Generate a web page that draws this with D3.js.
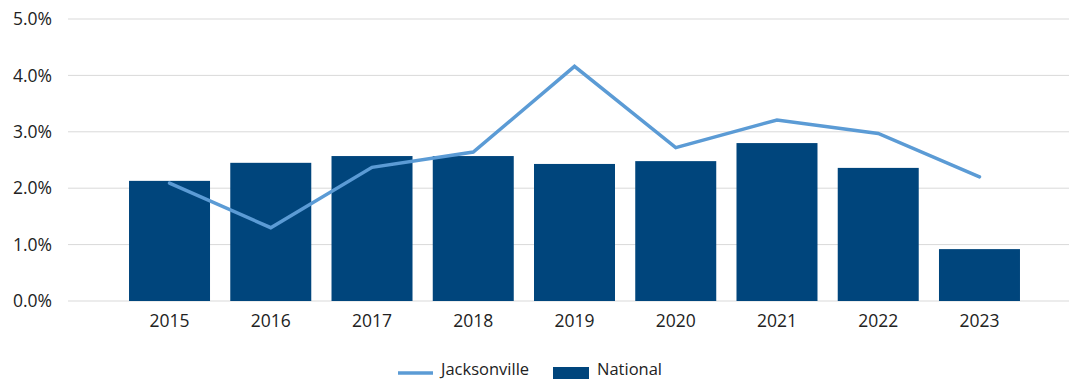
<!DOCTYPE html>
<html>
<head>
<meta charset="utf-8">
<script src="https://cdn.jsdelivr.net/npm/d3@7"></script>
<style>
  html, body { margin: 0; padding: 0; background: #fff; }
  text { font-family: "Open Sans", "Noto Sans", sans-serif; fill: #222; }
</style>
</head>
<body>
<svg id="chart" width="1069" height="379"></svg>
<script>
// Annual growth rates, Jacksonville vs. national
const years = ["2015", "2016", "2017", "2018", "2019", "2020", "2021", "2022", "2023"];
const national = [2.13, 2.45, 2.57, 2.57, 2.43, 2.48, 2.80, 2.36, 0.92];
const jacksonville = [2.09, 1.30, 2.37, 2.64, 4.16, 2.72, 3.21, 2.97, 2.20];
const yTicks = [0, 1, 2, 3, 4, 5];

const svg = d3.select("#chart");
const gridLeft = 68, gridRight = 1069;
const fontFamily = "'Open Sans', 'Noto Sans', sans-serif";

const x = d3.scaleBand().domain(years).range([118.9, 1030.1]).paddingInner(0.2).paddingOuter(0.1);
const y = d3.scaleLinear().domain([0, 5]).range([301, 19]);

// horizontal gridlines
svg.append("g").selectAll("line").data(yTicks).join("line")
  .attr("x1", gridLeft).attr("x2", gridRight)
  .attr("y1", d => y(d)).attr("y2", d => y(d))
  .attr("stroke", "#d9d9d9").attr("stroke-width", 1);

// y axis labels
const yAxis = d3.axisLeft(y).tickValues(yTicks).tickFormat(d => d3.format(".1f")(d) + "%").tickSize(0).tickPadding(0);
svg.append("g").attr("transform", "translate(52,0)").call(yAxis)
  .call(g => g.select(".domain").remove())
  .selectAll("text").attr("font-size", 17.5).attr("fill", "#222")
  .style("font-family", fontFamily);

// x axis labels
const xAxis = d3.axisBottom(x).tickSize(0).tickPadding(0);
svg.append("g").attr("transform", "translate(0,314.5)").call(xAxis)
  .call(g => g.select(".domain").remove())
  .selectAll("text").attr("font-size", 17.5).attr("fill", "#222")
  .style("font-family", fontFamily);

// national bars
svg.append("g").selectAll("rect").data(national).join("rect")
  .attr("x", (d, i) => x(years[i]))
  .attr("width", x.bandwidth())
  .attr("y", d => y(d))
  .attr("height", d => y(0) - y(d))
  .attr("fill", "#00457C");

// Jacksonville line
const line = d3.line()
  .x((d, i) => x(years[i]) + x.bandwidth() / 2)
  .y(d => y(d));
svg.append("path").datum(jacksonville)
  .attr("d", line)
  .attr("fill", "none")
  .attr("stroke", "#5B9BD5")
  .attr("stroke-width", 3.5)
  .attr("stroke-linejoin", "miter")
  .attr("stroke-linecap", "round");

// legend
const lg = svg.append("g").attr("transform", "translate(0,373)");
lg.append("line").attr("x1", 398).attr("x2", 433).attr("y1", 0).attr("y2", 0)
  .attr("stroke", "#5B9BD5").attr("stroke-width", 3.5);
lg.append("text").attr("x", 441).attr("y", 1.5).attr("font-size", 16.5).text("Jacksonville");
lg.append("rect").attr("x", 553).attr("y", -6).attr("width", 36).attr("height", 12).attr("fill", "#00457C");
lg.append("text").attr("x", 597).attr("y", 1.5).attr("font-size", 16.5).text("National");
</script>
</body>
</html>
